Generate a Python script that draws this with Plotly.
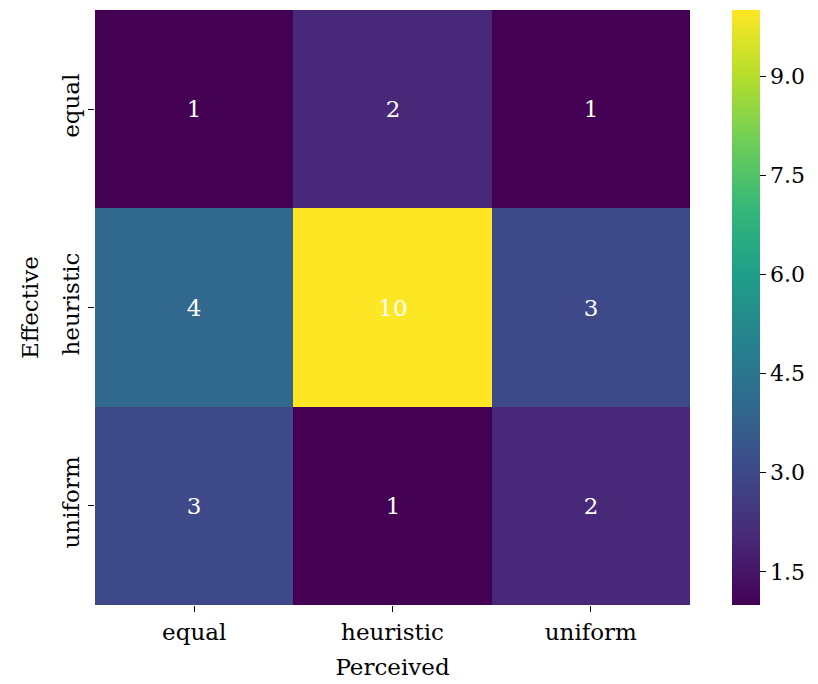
import plotly.graph_objects as go

# Confusion counts: rows = effective strategy, columns = perceived strategy
perceived = ["equal", "heuristic", "uniform"]
effective = ["equal", "heuristic", "uniform"]
counts = [
    [1, 2, 1],
    [4, 10, 3],
    [3, 1, 2],
]
cbar_ticks = [1.5, 3.0, 4.5, 6.0, 7.5, 9.0]

font_family = "DejaVu Serif"

fig = go.Figure(
    go.Heatmap(
        z=counts,
        x=perceived,
        y=effective,
        colorscale="Viridis",
        zmin=1,
        zmax=10,
        text=[[str(v) for v in row] for row in counts],
        texttemplate="%{text}",
        textfont=dict(family=font_family, size=23, color="white"),
        hoverinfo="skip",
        colorbar=dict(
            x=1.0706,
            xanchor="left",
            xref="paper",
            y=0.5,
            yanchor="middle",
            len=1.0,
            lenmode="fraction",
            thickness=28,
            outlinewidth=0,
            ypad=0,
            xpad=0,
            tickvals=cbar_ticks,
            ticktext=[f"{v:.1f}" for v in cbar_ticks],
            ticks="outside",
            ticklen=6,
            tickwidth=1.3,
            tickcolor="black",
            tickfont=dict(family=font_family, size=22, color="black"),
        ),
    )
)

fig.update_layout(
    width=818,
    height=684,
    margin=dict(l=95, r=128, t=10, b=79),
    paper_bgcolor="white",
    plot_bgcolor="white",
    font=dict(family=font_family, size=22, color="black"),
    xaxis=dict(
        title=dict(text="Perceived", font=dict(size=23), standoff=15),
        automargin=False,
        ticks="outside",
        ticklen=6,
        tickwidth=1.3,
        tickcolor="black",
        tickfont=dict(size=23),
        showgrid=False,
        zeroline=False,
        showline=False,
    ),
    yaxis=dict(
        title=dict(text="Effective", font=dict(size=23), standoff=12),
        autorange="reversed",
        ticks="outside",
        ticklen=6,
        tickwidth=1.3,
        tickcolor="black",
        tickangle=-90,
        tickfont=dict(size=23),
        showgrid=False,
        zeroline=False,
        showline=False,
    ),
)

fig.write_html("out.html")
